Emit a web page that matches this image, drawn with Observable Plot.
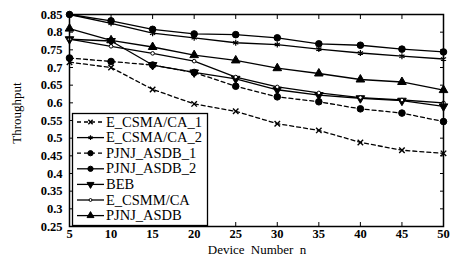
<!DOCTYPE html>
<html><head><meta charset="utf-8">
<script src="https://cdn.jsdelivr.net/npm/d3@7"></script>
<script src="https://cdn.jsdelivr.net/npm/@observablehq/plot@0.6"></script>
<style>
body{margin:0;background:#fff;}
#chart{position:relative;width:450px;height:256px;}
</style></head><body><div id="chart"></div>
<script>
// ---- data ----
const deviceNumbers = [5, 10, 15, 20, 25, 30, 35, 40, 45, 50];
const seriesNames = ["E_CSMA/CA_1", "E_CSMA/CA_2", "PJNJ_ASDB_1", "PJNJ_ASDB_2", "BEB", "E_CSMM/CA", "PJNJ_ASDB"];
const eCsmaCa1  = [0.715, 0.700, 0.638, 0.597, 0.576, 0.541, 0.522, 0.488, 0.466, 0.457];
const eCsmaCa2  = [0.850, 0.825, 0.797, 0.784, 0.770, 0.765, 0.752, 0.741, 0.732, 0.724];
const pjnjAsdb1 = [0.727, 0.717, 0.707, 0.686, 0.647, 0.617, 0.603, 0.583, 0.571, 0.547];
const pjnjAsdb2 = [0.850, 0.832, 0.808, 0.795, 0.793, 0.784, 0.767, 0.763, 0.752, 0.744];
const beb       = [0.780, 0.775, 0.707, 0.686, 0.668, 0.637, 0.622, 0.613, 0.606, 0.590];
const eCsmmCa   = [0.780, 0.760, 0.740, 0.718, 0.673, 0.645, 0.628, 0.615, 0.608, 0.600];
const pjnjAsdb  = [0.810, 0.777, 0.758, 0.735, 0.720, 0.698, 0.683, 0.666, 0.659, 0.636];
const xTicks = [5, 10, 15, 20, 25, 30, 35, 40, 45, 50];
const yTicks = [0.25, 0.3, 0.35, 0.4, 0.45, 0.5, 0.55, 0.6, 0.65, 0.7, 0.75, 0.8, 0.85];
const xLabel = "Device Number n";
const yLabel = "Throughput";

// ---- styles ----
const FONT = "'Liberation Serif', 'Times New Roman', serif";
const symbolTriangleDown = {
  draw(ctx, size) {
    const y = -Math.sqrt(size / (Math.sqrt(3) * 3));
    ctx.moveTo(0, -2 * y);
    ctx.lineTo(-Math.sqrt(3) * y, y);
    ctx.lineTo(Math.sqrt(3) * y, y);
    ctx.closePath();
  }
};
const seriesValues = [eCsmaCa1, eCsmaCa2, pjnjAsdb1, pjnjAsdb2, beb, eCsmmCa, pjnjAsdb];
const styles = [
  {dash: "4,3", symbol: "times",    r: 2.6, fill: "none",  sw: 1.4},
  {dash: null,  symbol: "asterisk", r: 2.8, fill: "none",  sw: 1.2},
  {dash: "4,3", symbol: "circle",   r: 3.3, fill: "black", sw: 1},
  {dash: null,  symbol: "circle",   r: 3.3, fill: "black", sw: 1},
  {dash: null,  symbol: symbolTriangleDown, r: 3.2, fill: "black", sw: 1},
  {dash: null,  symbol: "circle",   r: 1.8, fill: "white", sw: 1},
  {dash: null,  symbol: "triangle", r: 3.2, fill: "black", sw: 1}
];

const rows = seriesNames.map((name, i) =>
  deviceNumbers.map((n, j) => ({series: name, n, v: seriesValues[i][j]})));

const marks = [];
rows.forEach((data, i) => {
  const s = styles[i];
  marks.push(Plot.line(data, {x: "n", y: "v", stroke: "black", strokeWidth: 1.3, strokeDasharray: s.dash}));
});
rows.forEach((data, i) => {
  const s = styles[i];
  marks.push(Plot.dot(data, {x: "n", y: "v", symbol: s.symbol, r: s.r, stroke: "black", strokeWidth: s.sw, fill: s.fill}));
});

const fmt = d => String(+d.toFixed(2));
const chart = Plot.plot({
  width: 450, height: 256,
  marginLeft: 69, marginRight: 7, marginTop: 14, marginBottom: 30,
  style: {fontFamily: FONT, fontSize: "12.5px", color: "black", background: "white"},
  x: {domain: [5, 50]},
  y: {domain: [0.25, 0.85]},
  marks: [
    ...marks,
    Plot.axisX({ticks: xTicks, tickSize: 0, tickPadding: 3, tickFormat: fmt, fontSize: 12.5, fontWeight: "bold", label: null}),
    Plot.axisX({ticks: xTicks, tickSize: -4, tickFormat: () => "", label: null}),
    Plot.axisX({ticks: xTicks, anchor: "top", tickSize: -4, tickFormat: () => "", label: null}),
    Plot.axisY({ticks: yTicks, tickSize: 0, tickPadding: 7, tickFormat: fmt, fontSize: 12.5, fontWeight: "bold", label: null}),
    Plot.axisY({ticks: yTicks, tickSize: -4, tickFormat: () => "", label: null}),
    Plot.axisY({ticks: yTicks, anchor: "right", tickSize: -4, tickFormat: () => "", label: null}),
    Plot.frame({stroke: "black", strokeWidth: 1.5})
  ]
});
document.getElementById("chart").appendChild(chart);

// ---- axis titles and legend ----
const svg = d3.select(chart);
svg.append("text").attr("x", 257).attr("y", 254).attr("text-anchor", "middle")
  .attr("font-family", FONT).attr("font-size", 13).attr("word-spacing", 3).attr("fill", "black").text(xLabel);
svg.append("text").attr("transform", "translate(21,113) rotate(-90)").attr("text-anchor", "middle")
  .attr("font-family", FONT).attr("font-size", 13).attr("fill", "black").text(yLabel);

const lg = svg.append("g");
lg.append("rect").attr("x", 72.5).attr("y", 113.5).attr("width", 135).attr("height", 112)
  .attr("fill", "white").attr("stroke", "black").attr("stroke-width", 1.3);
seriesNames.forEach((name, i) => {
  const s = styles[i];
  const yy = 122 + i * 15.6;
  lg.append("line").attr("x1", 77).attr("x2", 104).attr("y1", yy).attr("y2", yy)
    .attr("stroke", "black").attr("stroke-width", 1.3).attr("stroke-dasharray", s.dash);
  const symType = typeof s.symbol === "string"
    ? {times: d3.symbolTimes, asterisk: d3.symbolAsterisk, circle: d3.symbolCircle, triangle: d3.symbolTriangle}[s.symbol]
    : s.symbol;
  const lr = s.r * 0.8;
  lg.append("path").attr("transform", `translate(90.5,${yy})`)
    .attr("d", d3.symbol(symType, Math.PI * lr * lr)())
    .attr("fill", s.fill).attr("stroke", "black").attr("stroke-width", s.sw);
  lg.append("text").attr("x", 106).attr("y", yy + 4.6).attr("text-anchor", "start")
    .attr("font-family", FONT).attr("font-size", 14.5).attr("fill", "black").text(name);
});
</script></body></html>
